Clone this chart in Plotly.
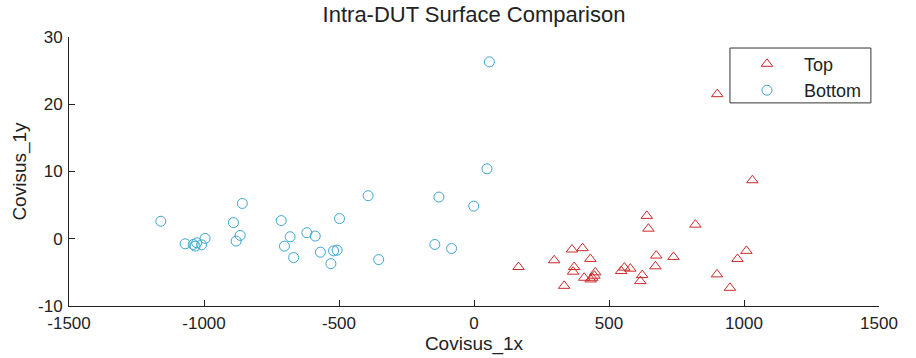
import plotly.graph_objects as go

top_x = [165, 297, 334, 363, 371, 367, 402, 408, 431, 432, 438, 449, 446, 545, 557,
         579, 623, 616, 640, 646, 675, 672, 739, 820, 901, 900, 948, 976, 1009, 1031]
top_y = [-4.2, -3.2, -7.0, -1.6, -4.2, -4.9, -1.4, -5.8, -3.0, -6.05, -5.8, -5.0, -5.5, -4.8, -4.3,
         -4.45, -5.4, -6.3, 3.4, 1.5, -2.5, -4.1, -2.7, 2.1, 21.5, -5.3, -7.3, -3.0, -1.8, 8.7]

bottom_x = [-1160, -1070, -1040, -1033, -1027, -1009, -996, -891, -858, -866, -881, -714, -681, -702, -668,
            -619, -588, -569, -530, -520, -507, -498, -392, -353, -145, -130, -83, -1, 48, 57]
bottom_y = [2.6, -0.75, -0.85, -1.1, -0.6, -0.9, 0.05, 2.4, 5.25, 0.5, -0.35, 2.7, 0.3, -1.1, -2.8,
            0.9, 0.4, -2.0, -3.7, -1.8, -1.7, 3.0, 6.4, -3.1, -0.85, 6.2, -1.45, 4.85, 10.4, 26.3]

x_ticks = [-1500, -1000, -500, 0, 500, 1000, 1500]
y_ticks = [-10, 0, 10, 20, 30]

FONT = "Liberation Sans, Arial, sans-serif"
TXT = "#222222"
RED = "#cc2a2a"
BLUE = "#3aa6d2"

fig = go.Figure()
fig.add_trace(go.Scatter(
    x=top_x, y=top_y, mode="markers", name="Top",
    marker=dict(symbol="triangle-up-open", size=10, color=RED, line=dict(width=1, color=RED)),
))
fig.add_trace(go.Scatter(
    x=bottom_x, y=bottom_y, mode="markers", name="Bottom",
    marker=dict(symbol="circle-open", size=10, color=BLUE, line=dict(width=1, color=BLUE)),
))

# legend frame
fig.add_shape(type="rect", xref="paper", yref="paper", x0=0.816, x1=0.990, y0=0.755, y1=0.959,
              line=dict(color="#333333", width=1), fillcolor="white", layer="below")

fig.update_layout(
    width=916, height=358,
    margin=dict(l=69, r=37, t=37, b=52),
    paper_bgcolor="white", plot_bgcolor="white",
    font=dict(family=FONT, size=17, color=TXT),
    title=dict(text="Intra-DUT Surface Comparison", xref="paper", x=0.5, xanchor="center",
               y=0.982, yanchor="top", font=dict(family=FONT, size=22, color=TXT)),
    showlegend=True,
    legend=dict(x=0.816, y=0.968, xanchor="left", yanchor="top",
                borderwidth=0, bgcolor="rgba(0,0,0,0)",
                font=dict(family=FONT, size=18, color=TXT),
                itemwidth=64, tracegroupgap=0),
    xaxis=dict(range=[-1500, 1500], tickvals=x_ticks, ticktext=[str(v) for v in x_ticks],
               ticks="inside", ticklen=6, tickcolor=TXT, showline=True, linecolor=TXT,
               linewidth=1, showgrid=False, zeroline=False, mirror=False, automargin=False,
               tickfont=dict(size=17), ticklabelstandoff=2,
               title=dict(text="Covisus_1x", standoff=2, font=dict(size=19))),
    yaxis=dict(range=[-10, 30], tickvals=y_ticks, ticktext=[str(v) for v in y_ticks],
               ticks="inside", ticklen=6, tickcolor=TXT, showline=True, linecolor=TXT,
               linewidth=1, showgrid=False, zeroline=False, mirror=False, automargin=False,
               tickfont=dict(size=17), ticklabelstandoff=2,
               title=dict(text="Covisus_1y", standoff=6, font=dict(size=19))),
)

fig.write_html("out.html", config={"displayModeBar": False},
               post_script="document.body.style.margin='0';")
